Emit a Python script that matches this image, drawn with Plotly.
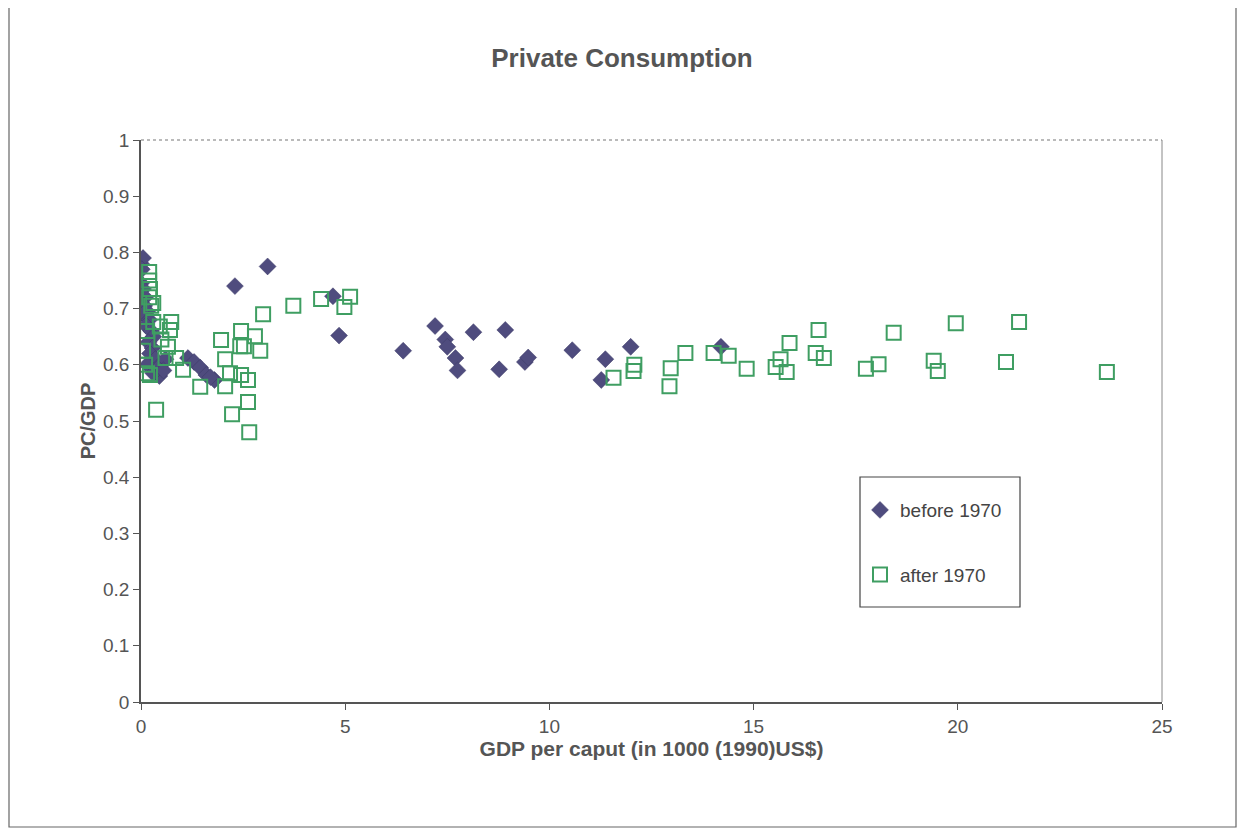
import plotly.graph_objects as go

# ---- data ----
before_x = [0.0, 0.05, 0.02, 0.0, 0.05, 0.1, 0.08, 0.15, 0.05, 0.2, 0.12, 0.25, 0.3, 0.18, 0.28,
            0.22, 0.35, 0.15, 0.4, 0.45, 0.3, 0.5, 0.6, 0.55,
            1.15, 1.3, 1.45, 1.6, 1.8, 1.7, 2.3, 3.1, 4.7, 4.85, 6.42, 7.2, 7.45, 7.5, 7.7, 7.75,
            8.14, 8.77, 8.92, 9.4, 9.48, 10.56, 11.27, 11.37, 11.99, 14.2]
before_y = [0.780, 0.790, 0.770, 0.745, 0.735, 0.720, 0.705, 0.695, 0.690, 0.680, 0.670, 0.660,
            0.650, 0.640, 0.630, 0.620, 0.610, 0.600, 0.595, 0.580, 0.585, 0.600, 0.610, 0.590,
            0.612, 0.605, 0.595, 0.582, 0.573, 0.578, 0.740, 0.775, 0.722, 0.652, 0.625, 0.669,
            0.645, 0.632, 0.612, 0.590, 0.658, 0.592, 0.662, 0.605, 0.613, 0.626, 0.573, 0.610,
            0.632, 0.632]

after_x = [0.05, 0.1, 0.15, 0.2, 0.2, 0.22, 0.2, 0.25, 0.3, 0.15, 0.3, 0.46, 0.71, 0.74, 0.66,
           0.6, 0.86, 0.22, 0.37, 0.5, 1.03, 1.45, 1.96, 2.06, 2.06, 2.18, 2.23, 2.43, 2.45, 2.45,
           2.52, 2.62, 2.62, 2.65, 2.79, 2.92, 2.99, 3.73, 4.41, 4.98, 5.12, 11.57, 12.06, 12.08,
           12.94, 12.97, 13.33, 14.02, 14.39, 14.83, 15.54, 15.66, 15.81, 15.88, 16.52, 16.59,
           16.72, 17.75, 18.06, 18.43, 19.41, 19.51, 19.95, 21.18, 21.5, 23.65]
after_y = [0.625, 0.600, 0.585, 0.765, 0.750, 0.735, 0.720, 0.705, 0.710, 0.660, 0.676, 0.668,
           0.662, 0.676, 0.632, 0.612, 0.612, 0.582, 0.520, 0.645, 0.591, 0.561, 0.644, 0.610,
           0.562, 0.585, 0.512, 0.633, 0.660, 0.582, 0.633, 0.573, 0.534, 0.480, 0.651, 0.625,
           0.690, 0.705, 0.717, 0.703, 0.721, 0.577, 0.589, 0.600, 0.562, 0.594, 0.621, 0.621,
           0.616, 0.593, 0.596, 0.610, 0.587, 0.639, 0.621, 0.662, 0.612, 0.593, 0.601, 0.657,
           0.607, 0.589, 0.674, 0.605, 0.676, 0.587]

x_ticks = [0, 5, 10, 15, 20, 25]
y_ticks = [0, 0.1, 0.2, 0.3, 0.4, 0.5, 0.6, 0.7, 0.8, 0.9, 1]
y_tick_text = ["0", "0.1", "0.2", "0.3", "0.4", "0.5", "0.6", "0.7", "0.8", "0.9", "1"]

FONT = "Liberation Sans, Arial, sans-serif"

# page body has an 8px margin; figure pixel = screen pixel - 8
OFF = 8
PL, PR, PT, PB = 141 - OFF, 1162 - OFF, 140 - OFF, 702 - OFF  # plot area in figure px
W, H = 1245, 831
PW, PH = PR - PL, PB - PT


def px(sx):
    return (sx - OFF - PL) / PW


def py(sy):
    return (PB - (sy - OFF)) / PH


fig = go.Figure()
fig.add_trace(go.Scatter(
    x=before_x, y=before_y, mode="markers", name="before 1970", legendgroup="a",
    marker=dict(symbol="diamond", size=13, color="#4f4c7e", line=dict(width=0.5, color="#3d3a66")),
))
fig.add_trace(go.Scatter(
    x=after_x, y=after_y, mode="markers", name="after 1970", legendgroup="b",
    marker=dict(symbol="square-open", size=14, color="#3f9e62", line=dict(width=2, color="#3f9e62")),
))

fig.update_layout(
    width=W, height=H,
    margin=dict(l=PL, r=W - PR, t=PT, b=H - PB),
    paper_bgcolor="white", plot_bgcolor="white",
    font=dict(family=FONT, size=19, color="#444"),
    title=dict(text="<b>Private Consumption</b>", x=(622 - OFF) / W, xanchor="center",
               y=1 - (58 - OFF) / H, yanchor="middle",
               font=dict(family=FONT, size=26, color="#555")),
    showlegend=True,
    legend=dict(x=px(860), y=py(477) - 0.025, xanchor="left", yanchor="top",
                bgcolor="rgba(0,0,0,0)", borderwidth=0,
                tracegroupgap=37, traceorder="grouped",
                font=dict(family=FONT, size=19, color="#444")),
    xaxis=dict(range=[0, 25], tickvals=x_ticks, showgrid=False, zeroline=False,
               showline=True, linecolor="#555", linewidth=1.5, mirror=False,
               ticks="outside", ticklen=6, tickcolor="#555",
               title=dict(text="<b>GDP per caput (in 1000 (1990)US$)</b>", standoff=0,
                          font=dict(family=FONT, size=21, color="#555")),
               tickfont=dict(family=FONT, size=19, color="#555")),
    yaxis=dict(range=[0, 1], tickvals=y_ticks, ticktext=y_tick_text, showgrid=False,
               zeroline=False, showline=True, linecolor="#555", linewidth=1.5, mirror=False,
               ticks="outside", ticklen=6, tickcolor="#555",
               title=dict(text="<b>PC/GDP</b>", standoff=2,
                          font=dict(family=FONT, size=20, color="#555")),
               tickfont=dict(family=FONT, size=19, color="#555")),
)

# top (dotted) and right frame lines
fig.add_shape(type="line", xref="paper", yref="paper", x0=0, x1=1, y0=1, y1=1,
              line=dict(color="#777", width=1.2, dash="dot"))
fig.add_shape(type="line", xref="paper", yref="paper", x0=1, x1=1, y0=0, y1=1,
              line=dict(color="#888", width=1))
# legend box
fig.add_shape(type="rect", xref="paper", yref="paper",
              x0=px(860), x1=px(1020), y0=py(607), y1=py(477),
              line=dict(color="#444", width=1.2), fillcolor="rgba(0,0,0,0)")
# outer chart border
fig.add_shape(type="rect", xref="paper", yref="paper",
              x0=px(9), x1=px(1236), y0=py(827), y1=py(7),
              line=dict(color="#666", width=1.2), fillcolor="rgba(0,0,0,0)", layer="below")

fig.write_html("out.html")
